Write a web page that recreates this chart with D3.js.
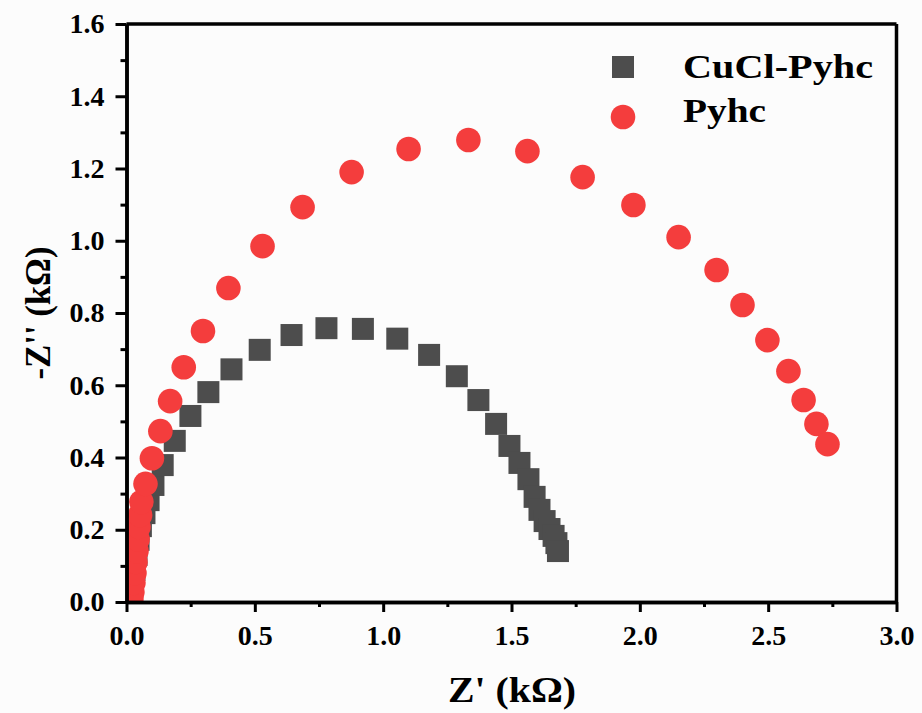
<!DOCTYPE html>
<html>
<head>
<meta charset="utf-8">
<script src="https://cdn.jsdelivr.net/npm/d3@7"></script>
<style>
  html, body { margin: 0; padding: 0; background: #fcfcfc; }
  svg { display: block; }
  text { font-family: "Liberation Serif", "Times New Roman", serif; font-weight: bold; fill: #000; }
</style>
</head>
<body>
<svg id="chart" width="922" height="713"></svg>
<script>
// Nyquist data, Z' (kΩ) vs -Z'' (kΩ)
const cuclZre = [0.018, 0.024, 0.031, 0.039, 0.047, 0.056, 0.070, 0.086, 0.105, 0.141, 0.188, 0.249, 0.319, 0.409, 0.519, 0.643, 0.779, 0.921, 1.055, 1.179, 1.287, 1.371, 1.440, 1.492, 1.531, 1.566, 1.590, 1.609, 1.629, 1.648, 1.664, 1.675, 1.681];
const cuclZim = [0.012, 0.047, 0.089, 0.130, 0.172, 0.210, 0.246, 0.282, 0.324, 0.379, 0.446, 0.515, 0.581, 0.644, 0.698, 0.739, 0.758, 0.756, 0.729, 0.684, 0.625, 0.559, 0.493, 0.432, 0.385, 0.340, 0.291, 0.255, 0.224, 0.202, 0.183, 0.163, 0.141];

const pyhcZre = [0.019, 0.023, 0.027, 0.031, 0.035, 0.039, 0.043, 0.047, 0.053, 0.058, 0.074, 0.099, 0.132, 0.170, 0.223, 0.298, 0.397, 0.530, 0.686, 0.877, 1.099, 1.332, 1.562, 1.777, 1.975, 2.151, 2.299, 2.400, 2.497, 2.579, 2.638, 2.688, 2.731];
const pyhcZim = [0.008, 0.028, 0.053, 0.080, 0.111, 0.141, 0.174, 0.208, 0.241, 0.277, 0.327, 0.398, 0.473, 0.556, 0.650, 0.750, 0.869, 0.985, 1.093, 1.190, 1.254, 1.279, 1.248, 1.176, 1.099, 1.010, 0.919, 0.822, 0.725, 0.639, 0.559, 0.493, 0.437];

const xTicks = [0.0, 0.5, 1.0, 1.5, 2.0, 2.5, 3.0];
const yTicks = [0.0, 0.2, 0.4, 0.6, 0.8, 1.0, 1.2, 1.4, 1.6];
const seriesNames = ["CuCl-Pyhc", "Pyhc"];
const seriesColors = ["#4d4d4d", "#f43d3d"];

const svg = d3.select("#chart");
const plotL = 126.5, plotR = 896.5, plotT = 24, plotB = 602;

const x = d3.scaleLinear().domain([0, 3]).range([plotL, plotR]);
const y = d3.scaleLinear().domain([0, 1.6]).range([plotB, plotT]);

svg.append("defs").append("clipPath").attr("id", "plotClip")
  .append("rect").attr("x", plotL).attr("y", plotT)
  .attr("width", plotR - plotL).attr("height", plotB - plotT);

// data layers
const plot = svg.append("g").attr("clip-path", "url(#plotClip)");
const sq = 22, rad = 12.3;

plot.append("g").selectAll("rect")
  .data(d3.range(cuclZre.length))
  .join("rect")
  .attr("x", i => x(cuclZre[i]) - sq / 2)
  .attr("y", i => y(cuclZim[i]) - sq / 2)
  .attr("width", sq).attr("height", sq)
  .attr("fill", seriesColors[0]);

plot.append("g").selectAll("circle")
  .data(d3.range(pyhcZre.length))
  .join("circle")
  .attr("cx", i => x(pyhcZre[i]))
  .attr("cy", i => y(pyhcZim[i]))
  .attr("r", rad)
  .attr("fill", seriesColors[1]);

// frame
svg.append("line").attr("x1", plotL).attr("x2", plotR).attr("y1", plotT).attr("y2", plotT)
  .attr("stroke", "#000").attr("stroke-width", 3.5);
svg.append("line").attr("x1", plotR).attr("x2", plotR).attr("y1", plotT).attr("y2", plotB)
  .attr("stroke", "#000").attr("stroke-width", 3.5);

// axes
const fmt = d3.format(".1f");
const xAxis = d3.axisBottom(x).tickValues(xTicks).tickFormat(fmt).tickSizeInner(10).tickSizeOuter(0).tickPadding(13);
const yAxis = d3.axisLeft(y).tickValues(yTicks).tickFormat(fmt).tickSizeInner(11).tickSizeOuter(0).tickPadding(11);

const xMinor = d3.axisBottom(x).tickValues(d3.range(0.25, 3, 0.5)).tickFormat("").tickSizeInner(5).tickSizeOuter(0);
const yMinor = d3.axisLeft(y).tickValues(d3.range(0.1, 1.6, 0.2)).tickFormat("").tickSizeInner(6).tickSizeOuter(0);

function styleAxis(g) {
  g.select(".domain").attr("stroke", "#000").attr("stroke-width", 3.5);
  g.selectAll(".tick line").attr("stroke", "#000").attr("stroke-width", 3);
  g.selectAll(".tick text").attr("font-size", 28).attr("font-family", null).attr("fill", "#000");
}

svg.append("g").attr("transform", `translate(0,${plotB})`).call(xMinor).call(styleAxis);
svg.append("g").attr("transform", `translate(${plotL},0)`).call(yMinor).call(styleAxis);
svg.append("g").attr("transform", `translate(0,${plotB})`).call(xAxis).call(styleAxis);
svg.append("g").attr("transform", `translate(${plotL},0)`).call(yAxis).call(styleAxis);

// axis titles
svg.append("text").attr("x", 512).attr("y", 702)
  .attr("text-anchor", "middle").attr("font-size", 36)
  .attr("textLength", 128).attr("lengthAdjust", "spacingAndGlyphs")
  .text("Z' (kΩ)");
svg.append("text").attr("transform", `translate(50,313) rotate(-90)`)
  .attr("text-anchor", "middle").attr("font-size", 36)
  .attr("textLength", 133).attr("lengthAdjust", "spacingAndGlyphs")
  .text("-Z'' (kΩ)");

// legend
const lg = svg.append("g");
lg.append("rect").attr("x", 623 - sq / 2).attr("y", 67 - sq / 2).attr("width", sq).attr("height", sq).attr("fill", seriesColors[0]);
lg.append("circle").attr("cx", 623).attr("cy", 117).attr("r", rad).attr("fill", seriesColors[1]);
lg.append("text").attr("x", 683).attr("y", 78).attr("font-size", 33)
  .attr("textLength", 190).attr("lengthAdjust", "spacingAndGlyphs").text(seriesNames[0]);
lg.append("text").attr("x", 683).attr("y", 122).attr("font-size", 33)
  .attr("textLength", 83).attr("lengthAdjust", "spacingAndGlyphs").text(seriesNames[1]);
</script>
</body>
</html>
